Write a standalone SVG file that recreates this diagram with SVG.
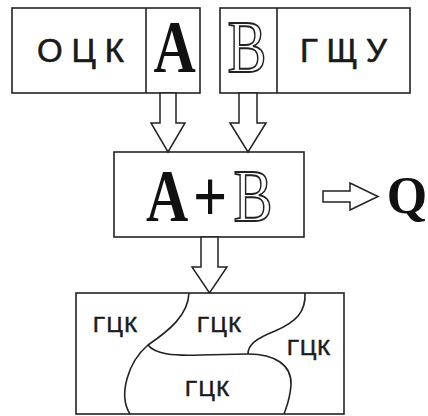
<svg xmlns="http://www.w3.org/2000/svg" width="428" height="416" viewBox="0 0 428 416">
<style>
.box{fill:#fff;stroke:#222;stroke-width:1.6}
.ln{fill:none;stroke:#222;stroke-width:1.6}
.arr{fill:#fff;stroke:#222;stroke-width:1.5;stroke-linejoin:miter}
.sans{font-family:"Liberation Sans",Arial,sans-serif;fill:#1a1a1a;stroke:#1a1a1a;stroke-width:0.6}
.ser{font-family:"Liberation Serif","Times New Roman",serif;font-weight:bold;fill:#111}
.out{font-family:"Liberation Serif","Times New Roman",serif;font-weight:normal;fill:#fff;stroke:#222;stroke-width:1.8}
</style>
<rect width="428" height="416" fill="#fff"/>
<g id="node-ock">
<rect class="box" x="12" y="8" width="188" height="85"/>
<line class="ln" x1="146" y1="8" x2="146" y2="93"/>
<text class="sans" x="37" y="62" font-size="33" textLength="87" lengthAdjust="spacing">ОЦК</text>
<text class="ser" transform="translate(174.5,72) scale(0.78,1)" text-anchor="middle" font-size="75">A</text>
</g>
<g id="node-gshu">
<rect class="box" x="220" y="8" width="190" height="85"/>
<line class="ln" x1="277" y1="8" x2="277" y2="93"/>
<text class="out" transform="translate(247,72) scale(0.78,1)" text-anchor="middle" font-size="75">B</text>
<text class="sans" x="300" y="62" font-size="33" textLength="87" lengthAdjust="spacing">ГЩУ</text>
</g>
<g id="node-sum">
<rect class="box" x="114" y="152" width="190" height="85"/>
<text class="ser" transform="translate(167,221) scale(0.78,1)" text-anchor="middle" font-size="75">A</text>
<text class="ser" transform="translate(210,221) scale(0.8,1)" text-anchor="middle" font-size="75">+</text>
<text class="out" transform="translate(253,221) scale(0.78,1)" text-anchor="middle" font-size="75">B</text>
</g>
<g id="node-q">
<text class="ser" x="407" y="213" text-anchor="middle" font-size="52">Q</text>
</g>
<g id="node-gck">
<rect class="box" x="76" y="293" width="268" height="121"/>
<path class="ln" d="M189,293 C188,315 170,330 148,345 C128,362 118,395 130,414"/>
<path class="ln" d="M148,345 C155,354 172,356 200,355 L248,354 C275,354 292,365 291,385 C290,400 286,408 284,414"/>
<path class="ln" d="M305,293 C306,312 296,322 275,331 C255,339 248,345 248,354"/>
<text class="sans" x="93" y="332" font-size="22" textLength="44" lengthAdjust="spacing">ГЦК</text>
<text class="sans" x="197" y="332" font-size="22" textLength="44" lengthAdjust="spacing">ГЦК</text>
<text class="sans" x="287" y="355" font-size="22" textLength="43" lengthAdjust="spacing">ГЦК</text>
<text class="sans" x="185" y="396" font-size="22" textLength="44" lengthAdjust="spacing">ГЦК</text>
</g>
<g id="connectors">
<polygon class="arr" points="160,93 176,93 176,123 185,123 168,152 151,123 160,123"/>
<polygon class="arr" points="239,93 257,93 257,123 266,123 248,152 230,123 239,123"/>
<polygon class="arr" points="201,237 218,237 218,267 227,267 209.5,293 192,267 201,267"/>
<polygon class="arr" points="323,191 350,191 350,183 378,196.5 350,210 350,202 323,202"/>
</g>
</svg>
